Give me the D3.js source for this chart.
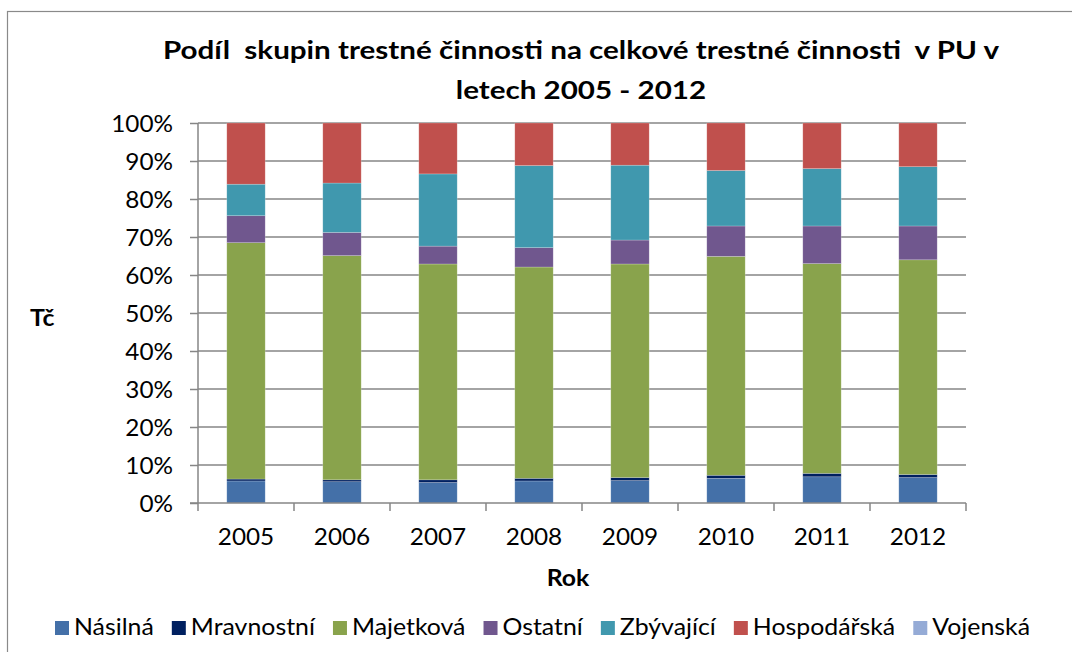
<!DOCTYPE html>
<html>
<head>
<meta charset="utf-8">
<script src="https://cdn.jsdelivr.net/npm/d3@7"></script>
<style>
  body { margin: 0; background: #fff; }
  text { font-family: Lato, "Open Sans", sans-serif; fill: #000; }
</style>
</head>
<body>
<div id="chart"></div>
<script>
// Dimensions of the chart.
var width = 1072;
var height = 652;
var m = { top: 123, right: 106, bottom: 149, left: 198 };

// Data (percent of all crime per year).
var years = ["2005", "2006", "2007", "2008", "2009", "2010", "2011", "2012"];
var seriesNames = ["Násilná", "Mravnostní", "Majetková", "Ostatní", "Zbývající", "Hospodářská", "Vojenská"];
var seriesColors = ["#4470a8", "#002060", "#89a34c", "#70578e", "#4098ae", "#c0504d", "#95abd6"];

var nasilna     = [5.8, 5.6, 5.4, 5.8, 5.9, 6.5, 6.9, 6.7];
var mravnostni  = [0.5, 0.5, 0.7, 0.7, 0.8, 0.8, 0.9, 0.8];
var majetkova   = [62.2, 59.0, 56.8, 55.6, 56.2, 57.6, 55.2, 56.5];
var ostatni     = [7.1, 6.1, 4.7, 5.1, 6.3, 8.0, 9.9, 8.9];
var zbyvajici   = [8.3, 13.0, 19.0, 21.6, 19.7, 14.6, 15.1, 15.6];
var hospodarska = [16.1, 15.8, 13.4, 11.2, 11.1, 12.5, 12.0, 11.5];
var vojenska    = [0, 0, 0, 0, 0, 0, 0, 0];

var yTicks = [0, 0.1, 0.2, 0.3, 0.4, 0.5, 0.6, 0.7, 0.8, 0.9, 1];

var allSeries = [nasilna, mravnostni, majetkova, ostatni, zbyvajici, hospodarska, vojenska];
var rows = years.map(function(y, i) {
  var r = { year: y };
  seriesNames.forEach(function(n, k) { r[n] = allSeries[k][i]; });
  return r;
});

// Text in the source is a bit wider than Lato, stretch it a little.
var SX = 1.08;
function stretch(sel) {
  sel.each(function() {
    var w = this.getComputedTextLength();
    d3.select(this).attr("textLength", w * SX).attr("lengthAdjust", "spacingAndGlyphs");
  });
}

var svg = d3.select("#chart").append("svg")
    .attr("width", width)
    .attr("height", height);

// Outer chart border.
svg.append("rect")
    .attr("x", 7.5).attr("y", 11.5)
    .attr("width", 1100).attr("height", 700)
    .style("fill", "none")
    .style("stroke", "#8a8a8a")
    .style("stroke-width", 1.2);

// Title, two lines, stretched to the source width.
var title = svg.append("text")
    .attr("text-anchor", "middle")
    .style("font-weight", "bold")
    .style("font-size", "25px")
    .style("white-space", "pre");
var t1 = title.append("tspan").attr("x", 581).attr("y", 59)
    .text("Podíl  skupin trestné činnosti na celkové trestné činnosti  v PU v");
var t2 = title.append("tspan").attr("x", 581).attr("y", 99)
    .text("letech 2005 - 2012");
var tf = 836 / t1.node().getComputedTextLength();
t2.attr("textLength", t2.node().getComputedTextLength() * tf).attr("lengthAdjust", "spacingAndGlyphs");
t1.attr("textLength", 836).attr("lengthAdjust", "spacingAndGlyphs");

var pw = width - m.left - m.right;
var ph = height - m.top - m.bottom;

var x = d3.scaleBand()
    .domain(years)
    .range([0, pw])
    .paddingInner(0.6)
    .paddingOuter(0.3);

var y = d3.scaleLinear()
    .domain([0, 1])
    .range([ph, 0]);

var g = svg.append("g")
    .attr("transform", "translate(" + m.left + "," + m.top + ")");

// Horizontal gridlines.
g.selectAll(".grid")
    .data(yTicks.slice(1))
    .enter().append("line")
    .attr("x1", 0).attr("x2", pw)
    .attr("y1", function(d) { return y(d); })
    .attr("y2", function(d) { return y(d); })
    .style("stroke", "#868686")
    .style("stroke-width", 1.5);

// Stacked bars, normalised to 100%.
var stack = d3.stack()
    .keys(seriesNames)
    .offset(d3.stackOffsetExpand);
var layers = stack(rows);

g.selectAll(".layer")
    .data(layers)
    .enter().append("g")
    .style("fill", function(d, i) { return seriesColors[i]; })
    .selectAll("rect")
    .data(function(d) { return d; })
    .enter().append("rect")
    .attr("x", function(d) { return x(d.data.year); })
    .attr("width", x.bandwidth())
    .attr("y", function(d) { return y(d[1]); })
    .attr("height", function(d) { return Math.max(0, y(d[0]) - y(d[1])); })
    .style("stroke", "rgba(255,255,255,0.35)")
    .style("stroke-width", 0.6);

// Y axis.
var yAxis = g.append("g")
    .call(d3.axisLeft(y).tickValues(yTicks).tickFormat(d3.format(".0%")).tickSize(8).tickPadding(17));
yAxis.select(".domain").style("stroke", "#868686").style("stroke-width", 1.5)
    .attr("d", "M0," + ph + "V0");
yAxis.selectAll(".tick line").style("stroke", "#868686").style("stroke-width", 1.5);
yAxis.selectAll("text")
    .style("font-size", "22.5px")
    .style("font-family", "Lato, sans-serif")
    .attr("dy", "0.36em")
    .call(stretch);

// X axis: baseline plus ticks at category boundaries.
var xAxisG = g.append("g").attr("transform", "translate(0," + ph + ")");
xAxisG.append("line")
    .attr("x1", -8).attr("x2", pw)
    .style("stroke", "#868686").style("stroke-width", 1.5);
var step = x.step();
xAxisG.selectAll(".xt")
    .data(d3.range(years.length + 1))
    .enter().append("line")
    .attr("x1", function(i) { return i * step; })
    .attr("x2", function(i) { return i * step; })
    .attr("y1", 0).attr("y2", 8)
    .style("stroke", "#868686").style("stroke-width", 1.5);
xAxisG.selectAll(".xl")
    .data(years)
    .enter().append("text")
    .attr("x", function(d) { return x(d) + x.bandwidth() / 2; })
    .attr("y", 42)
    .attr("text-anchor", "middle")
    .style("font-size", "22.5px")
    .text(function(d) { return d; })
    .call(stretch);

// Axis titles.
svg.append("text")
    .attr("x", 568).attr("y", 586)
    .attr("text-anchor", "middle")
    .style("font-weight", "bold")
    .style("font-size", "23px")
    .text("Rok")
    .call(stretch);

svg.append("text")
    .attr("x", 30).attr("y", 326)
    .style("font-weight", "bold")
    .style("font-size", "23px")
    .text("Tč")
    .call(stretch);

// Legend along the bottom.
var li = { s: 14, gap: 5, x0: 55, x1: 1030, y: 621 };
var legend = svg.append("g");
var items = legend.selectAll("g")
    .data(seriesNames)
    .enter().append("g");
items.append("rect")
    .attr("width", li.s).attr("height", li.s)
    .style("fill", function(d, i) { return seriesColors[i]; });
items.append("text")
    .attr("x", li.s + li.gap)
    .attr("y", li.s)
    .style("font-size", "23px")
    .text(function(d) { return d; })
    .call(stretch);

var widths = [];
items.select("text").each(function() { widths.push(+this.getAttribute("textLength")); });
var used = d3.sum(widths) + widths.length * (li.s + li.gap);
var spacing = (li.x1 - li.x0 - used) / (widths.length - 1);
var cx = li.x0;
items.attr("transform", function(d, i) {
  var t = "translate(" + cx + "," + li.y + ")";
  cx += li.s + li.gap + widths[i] + spacing;
  return t;
});
</script>
</body>
</html>
